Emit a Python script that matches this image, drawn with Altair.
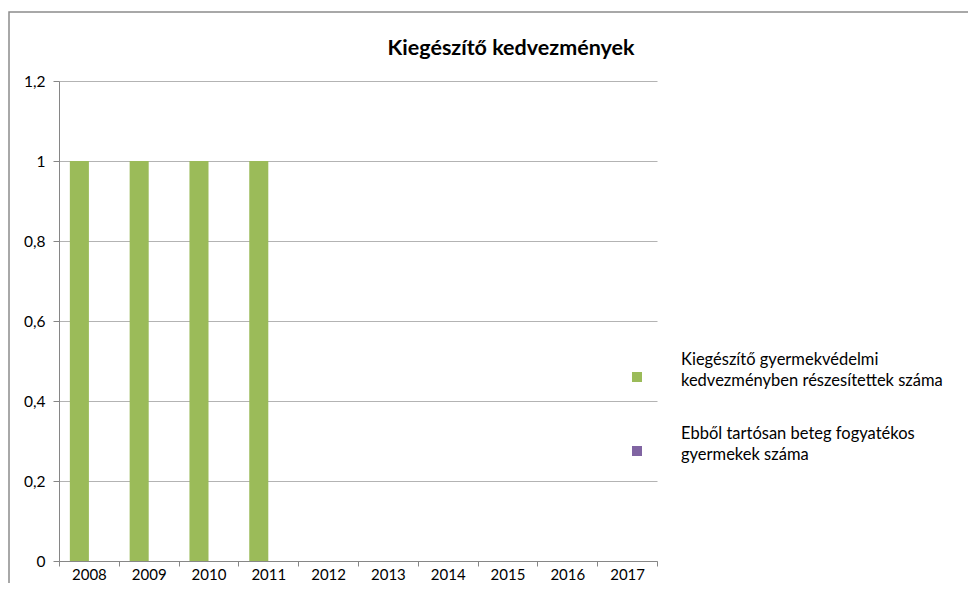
import altair as alt
import pandas as pd

# ---- data -------------------------------------------------------------
years = ["2008", "2009", "2010", "2011", "2012", "2013", "2014", "2015", "2016", "2017"]
series = [
    "Kiegészítő gyermekvédelmi kedvezményben részesítettek száma",
    "Ebből tartósan beteg fogyatékos gyermekek száma",
]
legend_lines = [
    ["Kiegészítő gyermekvédelmi", "kedvezményben részesítettek száma"],
    ["Ebből tartósan beteg fogyatékos", "gyermekek száma"],
]
values_green = [1, 1, 1, 1, 0, 0, 0, 0, 0, 0]
values_purple = [0, 0, 0, 0, 0, 0, 0, 0, 0, 0]
colors = ["#9BBB59", "#8064A2"]
y_ticks = [0, 0.2, 0.4, 0.6, 0.8, 1.0, 1.2]
title_text = "Kiegészítő kedvezmények"

FONT = "Lato"
AXIS_COLOR = "#868686"
GRID_COLOR = "#b3b3b3"

rows = []
for s, vals in zip(series, [values_green, values_purple]):
    for yr, v in zip(years, vals):
        rows.append({"year": yr, "series": s, "value": v})
df = pd.DataFrame(rows)

W, H = 598, 480

bars = alt.Chart(df).mark_bar().encode(
    x=alt.X(
        "year:N",
        sort=years,
        scale=alt.Scale(paddingInner=0, paddingOuter=0),
        axis=alt.Axis(
            title=None,
            labelAngle=0,
            tickBand="extent",
            domainColor=AXIS_COLOR,
            tickColor=AXIS_COLOR,
            tickSize=5,
            labelPadding=1,
            labelFont=FONT,
            labelFontSize=15,
            labelColor="#000000",
            grid=False,
        ),
    ),
    xOffset=alt.XOffset(
        "series:N", sort=series, scale=alt.Scale(paddingInner=0, paddingOuter=0.57)
    ),
    y=alt.Y(
        "value:Q",
        scale=alt.Scale(domain=[0, 1.2], nice=False),
        axis=alt.Axis(
            title=None,
            values=y_ticks,
            labelExpr="replace(format(datum.value, '.1~f'), '.', ',')",
            gridColor=GRID_COLOR,
            domainColor=AXIS_COLOR,
            tickColor=AXIS_COLOR,
            tickSize=6,
            labelPadding=8,
            labelFont=FONT,
            labelFontSize=15.5,
            labelColor="#000000",
        ),
    ),
    color=alt.Color(
        "series:N", sort=series, scale=alt.Scale(domain=series, range=colors), legend=None
    ),
)

one = pd.DataFrame({"t": [title_text]})

border = alt.Chart(one).mark_rect(
    fill=None, stroke="#8c8c8c", strokeWidth=1.5, fillOpacity=0
).encode(
    x=alt.value(-50), x2=alt.value(1000), y=alt.value(-69), y2=alt.value(1000)
)

title = alt.Chart(one).mark_text(
    font=FONT, fontSize=21.5, fontWeight="bold", color="#000000",
    align="center", baseline="alphabetic",
).encode(text="t:N", x=alt.value(452), y=alt.value(-26))

layers = [border, bars, title]

sym_y = [296, 370]
txt_y = [284, 358]
for i in range(len(series)):
    d = pd.DataFrame({"t": ["\n".join(legend_lines[i])]})
    sym = alt.Chart(d).mark_point(
        shape="square", filled=True, size=100, color=colors[i], opacity=1
    ).encode(x=alt.value(578), y=alt.value(sym_y[i]))
    txt = alt.Chart(d).mark_text(
        font=FONT, fontSize=16.5, color="#000000", align="left",
        baseline="alphabetic", lineBreak="\n", lineHeight=21,
    ).encode(text="t:N", x=alt.value(622), y=alt.value(txt_y[i]))
    layers += [sym, txt]

chart = alt.layer(*layers).properties(
    width=W,
    height=H,
    padding={"left": 51, "top": 73, "right": 311, "bottom": 22},
    autosize=alt.AutoSizeParams(type="none"),
    background="white",
).configure_view(stroke=None)

chart.save("out.html", embed_options={"renderer": "svg", "actions": False})
